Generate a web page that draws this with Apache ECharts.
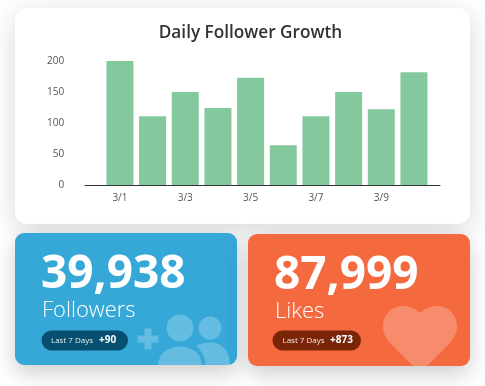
<!DOCTYPE html>
<html><head><meta charset="utf-8">
<style>html,body{margin:0;padding:0;background:#fff}#c{width:485px;height:386px}</style>
<script src="https://cdn.jsdelivr.net/npm/echarts@6/dist/echarts.min.js"></script>
</head><body><div id="c"></div>
<script>
const days = ['3/1','3/2','3/3','3/4','3/5','3/6','3/7','3/8','3/9','3/10'];
const growth = [200,111,150,124,173,64,111,150,122,182];
const followers = {value:'39,938', label:'Followers', delta:'+90'};
const likes = {value:'87,999', label:'Likes', delta:'+873'};
const FONT = '"Open Sans", sans-serif';
const txt = (text,x,y,size,weight,fill,align,z)=>({type:'text',z:z||5,silent:true,style:{text,x,y,font:`${weight} ${size}px ${FONT}`,fill,textAlign:align||'left',textVerticalAlign:'middle'}});
const card = (x,y,w,h,r,fill,sb,so,sc)=>({type:'rect',z:1,silent:true,shape:{x,y,width:w,height:h,r},style:{fill,shadowBlur:sb,shadowOffsetY:so,shadowColor:sc}});
const soft = 'rgba(255,255,255,0.24)';
let iconId = 0;
const icon = (d)=>{const name='icon'+(iconId++);echarts.graphic.registerShape(name,echarts.graphic.extendPath(d,{}));return {type:name,z:2,silent:true,style:{fill:soft}};};
const chart = echarts.init(document.getElementById('c'),null,{renderer:'canvas'});
chart.setOption({
  animation:false,
  backgroundColor:'#fff',
  title:{text:'Daily Follower Growth',left:250.5,top:33,textAlign:'center',textVerticalAlign:'middle',textStyle:{fontFamily:FONT,fontSize:17.2,fontWeight:600,color:'#333'},padding:0,z:10},
  grid:[
    {left:103.6,width:326.7,top:61,height:124,z:5},
    {left:85,width:355,top:61,height:124,z:4}
  ],
  xAxis:[
    {type:'category',gridIndex:0,data:days,axisLine:{show:false},axisTick:{show:false},
     axisLabel:{interval:1,margin:8,fontFamily:FONT,fontSize:10,color:'#555'},z:6},
    {type:'category',gridIndex:1,data:[''],axisLine:{show:true,lineStyle:{color:'#333',width:1}},axisTick:{show:false},axisLabel:{show:false},z:6}
  ],
  yAxis:[
    {type:'value',gridIndex:0,min:0,max:200,interval:50,splitLine:{show:false},axisLine:{show:false},axisTick:{show:false},
     axisLabel:{margin:39.5,fontFamily:FONT,fontSize:10,color:'#555',verticalAlign:'middle',padding:[4,0,0,0]},z:6},
    {type:'value',gridIndex:1,min:0,max:200,show:false}
  ],
  series:[{type:'bar',xAxisIndex:0,yAxisIndex:0,data:growth,barWidth:27,itemStyle:{color:'#84C99E'},z:5}],
  graphic:{elements:[
    card(15,8,455,216,12,'#fff',28,6,'rgba(0,0,0,0.16)'),
    card(15,233,222,132,9,'#35A8D8',22,8,'rgba(0,0,0,0.2)'),
    card(248,234,222,132,9,'#F4693D',22,8,'rgba(0,0,0,0.2)'),
    icon('M144.5,335.5 V328.5 H151.5 V335.5 H158.5 V342.5 H151.5 V349.5 H144.5 V342.5 H137.5 V335.5 Z'),
    {type:'circle',z:2,silent:true,shape:{cx:180,cy:328,r:13.5},style:{fill:soft}},
    {type:'circle',z:2,silent:true,shape:{cx:210,cy:328,r:11.5},style:{fill:soft}},
    icon('M158,365 C159,353 168,346.5 180,346.5 C192,346.5 201,353 202,365 Z'),
    icon('M196,345.5 C201,343.5 206,342.5 211,342.5 C222,342.5 230,351 230,365 L205.5,365 C205,357 201,350 196,345.5 Z'),
    icon('M413,366 L391,344 C385,338 383,332 383,326 C383,315 392,306 402,306 C410,306 416,309 420,313 C424,309 430,306 438,306 C448,306 457,315 457,326 C457,332 455,338 449,344 L427,366 Z'),
    txt(followers.value,41,275,46,700,'#fff'),
    txt(followers.label,42,311,22,300,'#fff'),
    {type:'rect',z:3,silent:true,shape:{x:41.5,y:330.5,width:86.5,height:20,r:10},style:{fill:'#064F70'}},
    txt('Last 7 Days',51,340.5,8,400,'#e6eef2'),
    txt(followers.delta,99,340.5,10,700,'#fff'),
    txt(likes.value,274,276,46,700,'#fff'),
    txt(likes.label,275,312,22,300,'#fff'),
    {type:'rect',z:3,silent:true,shape:{x:272.5,y:330.5,width:88.5,height:20,r:10},style:{fill:'#7A2408'}},
    txt('Last 7 Days',282.5,340.5,8,400,'#f4e6e0'),
    txt(likes.delta,330,340.5,10,700,'#fff')
  ]}
});
</script></body></html>
